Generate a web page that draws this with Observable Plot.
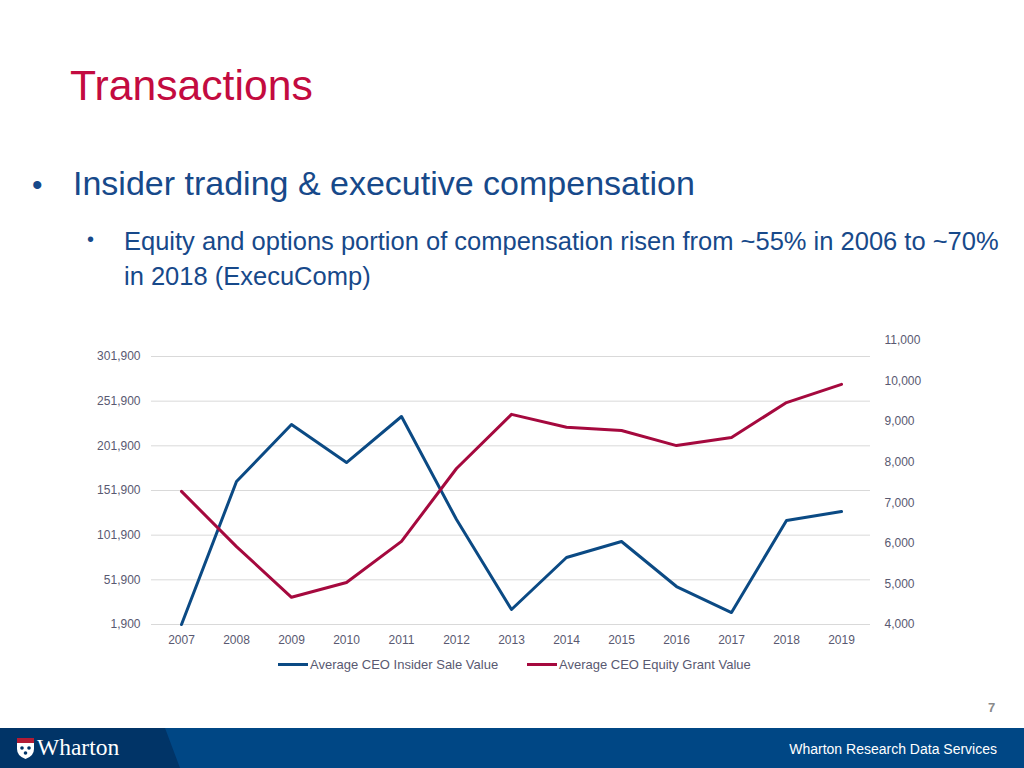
<!DOCTYPE html>
<html>
<head>
<meta charset="utf-8">
<script src="https://cdn.jsdelivr.net/npm/d3@7"></script>
<script src="https://cdn.jsdelivr.net/npm/@observablehq/plot@0.6"></script>
<style>
  html, body { margin: 0; padding: 0; background: #fff; }
  body { width: 1024px; height: 768px; position: relative; overflow: hidden; font-family: "Liberation Sans", Arial, sans-serif; }
  .abs { position: absolute; white-space: nowrap; }
  #title { left: 70px; top: 61px; font-size: 42.7px; color: #c30b40; }
  #b1dot { left: 32px; top: 168px; font-size: 30px; color: #17498a; }
  #b1 { left: 73px; top: 164px; font-size: 34px; color: #17498a; }
  #b2dot { left: 87px; top: 228px; font-size: 20px; color: #17498a; }
  #b2 { left: 124px; top: 224px; font-size: 25.5px; line-height: 35px; color: #17498a; }
  #chart { position: absolute; left: 0; top: 320px; }
  #legend { left: 0; top: 657px; width: 1024px; font-size: 13px; color: #595971; }
  .li { position: absolute; top: 0; display: flex; align-items: center; }
  .sw { display: inline-block; width: 30px; height: 3px; margin-right: 2px; }
  #page { left: 988px; top: 700px; font-size: 13px; font-weight: bold; color: #8a8a8a; }
  #footer { left: 0; top: 728px; width: 1024px; height: 40px; background: #004785; }
  #footdark { left: 0; top: 0; width: 180px; height: 40px; background: #013467; clip-path: polygon(0 0, 165px 0, 180px 40px, 0 40px); }
  #wharton { left: 37px; top: 6px; font-family: "Liberation Serif", "DejaVu Serif", serif; font-size: 23.5px; color: #fff; }
  #wrds { right: 27px; top: 13px; font-size: 14px; color: #fff; }
</style>
</head>
<body>
<div id="title" class="abs">Transactions</div>
<div id="b1dot" class="abs">•</div>
<div id="b1" class="abs">Insider trading &amp; executive compensation</div>
<div id="b2dot" class="abs">•</div>
<div id="b2" class="abs">Equity and options portion of compensation risen from ~55% in 2006 to ~70%<br>in 2018 (ExecuComp)</div>
<div id="chart"></div>
<div id="legend" class="abs">
  <div class="li" style="left:278px"><span class="sw" style="background:#0b4a84"></span>Average CEO Insider Sale Value</div>
  <div class="li" style="left:527px"><span class="sw" style="background:#a5093e"></span>Average CEO Equity Grant Value</div>
</div>
<div id="page" class="abs">7</div>
<div id="footer" class="abs">
  <div id="footdark" class="abs"></div>
  <svg class="abs" style="left:17px;top:10px" width="17" height="21" viewBox="0 0 17 21">
    <path d="M0 0 H17 V11 Q17 18 8.5 21 Q0 18 0 11 Z" fill="#fff"/>
    <rect x="0" y="0" width="17" height="5" fill="#b31b34"/>
    <circle cx="5" cy="10" r="1.8" fill="#013467"/>
    <circle cx="12" cy="10" r="1.8" fill="#013467"/>
    <circle cx="8.5" cy="15" r="1.8" fill="#013467"/>
  </svg>
  <div id="wharton" class="abs">Wharton</div>
  <div id="wrds" class="abs">Wharton Research Data Services</div>
</div>
<script>
const years = ["2007","2008","2009","2010","2011","2012","2013","2014","2015","2016","2017","2018","2019"];
const insiderSale = [1900, 161900, 225800, 183200, 234700, 119400, 18700, 76900, 94800, 44400, 15300, 118300, 128400];
const equityGrant = [7280, 5920, 4670, 5035, 6050, 7845, 9180, 8860, 8780, 8410, 8610, 9470, 9920];
const leftTicks = [1900, 51900, 101900, 151900, 201900, 251900, 301900];
const rightTicks = [4000, 5000, 6000, 7000, 8000, 9000, 10000, 11000];

// map right-axis values onto left-axis scale
const leftMin = 1900, leftMax = 319800, rightMin = 4000, rightMax = 11000;
const toLeft = r => leftMin + (r - rightMin) * (leftMax - leftMin) / (rightMax - rightMin);
const toRight = l => rightMin + (l - leftMin) * (rightMax - rightMin) / (leftMax - leftMin);

const blueData = years.map((y, i) => ({year: y, value: insiderSale[i]}));
const redData = years.map((y, i) => ({year: y, value: equityGrant[i]}));
const fmt = d3.format(",");

const chart = Plot.plot({
  width: 1024,
  height: 334,
  marginTop: 20,
  marginBottom: 30,
  marginLeft: 151,
  marginRight: 154,
  style: {fontFamily: "'Liberation Sans', Arial, sans-serif", fontSize: "12px", color: "#595971", background: "transparent"},
  x: {type: "point", domain: years, padding: 0.5, label: null},
  y: {domain: [leftMin, leftMax], label: null},
  marks: [
    Plot.ruleY(leftTicks, {stroke: "#d9d9d9", strokeWidth: 1}),
    Plot.axisY({anchor: "left", ticks: leftTicks, tickFormat: fmt, tickSize: 0, tickPadding: 11, label: null, fill: "#595971"}),
    Plot.axisY({anchor: "right", ticks: rightTicks.map(toLeft), tickFormat: d => fmt(Math.round(toRight(d))), tickSize: 0, tickPadding: 14, label: null, fill: "#595971"}),
    Plot.axisX({tickSize: 0, tickPadding: 11, label: null, fill: "#595971"}),
    Plot.line(blueData, {x: "year", y: "value", stroke: "#0b4a84", strokeWidth: 3, strokeLinejoin: "round"}),
    Plot.line(redData, {x: "year", y: d => toLeft(d.value), stroke: "#a5093e", strokeWidth: 3, strokeLinejoin: "round"})
  ]
});
document.getElementById("chart").appendChild(chart);
</script>
</body>
</html>
